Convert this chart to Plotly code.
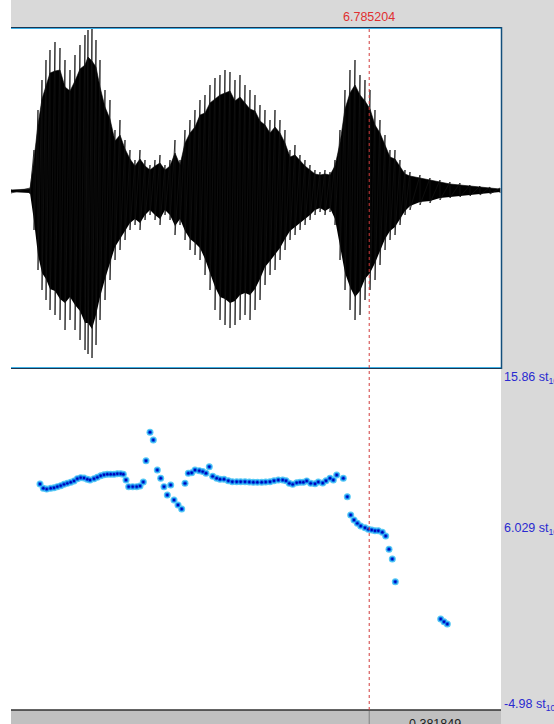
import plotly.graph_objects as go

# ---------------- data ----------------
t_start = 5.7464
t_end = 7.1674
cursor_t = 6.785204
right_dur_label = "0.381849"

# waveform envelopes (arbitrary amplitude units), read every ~5 px
wave_t = [5.7464, 5.8015, 5.8131, 5.8247, 5.8363, 5.8479, 5.8595, 5.8740, 5.8885, 5.9030,
          5.9175, 5.9320, 5.9465, 5.9610, 5.9697, 5.9813, 5.9929, 6.0045, 6.0190, 6.0335,
          6.0480, 6.0625, 6.0770, 6.0915, 6.1060, 6.1205, 6.1350, 6.1495, 6.1640, 6.1785,
          6.1930, 6.2075, 6.2220, 6.2365, 6.2510, 6.2655, 6.2800, 6.2945, 6.3090, 6.3235,
          6.3380, 6.3525, 6.3670, 6.3815, 6.3960, 6.4105, 6.4250, 6.4395, 6.4540, 6.4685,
          6.4830, 6.4975, 6.5120, 6.5265, 6.5410, 6.5555, 6.5700, 6.5845, 6.5990, 6.6135,
          6.6280, 6.6425, 6.6570, 6.6715, 6.6860, 6.7005, 6.7150, 6.7295, 6.7440, 6.7585,
          6.7730, 6.7875, 6.8020, 6.8165, 6.8310, 6.8455, 6.8600, 6.8745, 6.8890, 6.9035,
          6.9325, 6.9615, 6.9905, 7.0195, 7.0485, 7.0775, 7.1065, 7.1355, 7.1645]
wave_max = [2, 3, 41, 81, 111, 131, 141, 149, 143, 131,
            121, 136, 146, 156, 161, 163, 151, 131, 101, 91,
            61, 71, 51, 41, 31, 41, 31, 26, 31, 36,
            26, 31, 51, 31, 61, 71, 81, 91, 96, 106,
            113, 116, 121, 119, 111, 116, 106, 101, 96, 86,
            81, 71, 81, 71, 61, 41, 46, 36, 31, 26,
            21, 19, 21, 19, 31, 61, 101, 121, 131, 116,
            111, 101, 81, 71, 56, 41, 41, 31, 21, 19,
            16, 13, 11, 9, 8, 6, 5, 4, 3]
wave_min = [-2, -3, -39, -79, -99, -109, -119, -124, -129, -139,
            -129, -139, -149, -159, -163, -167, -154, -129, -109, -89,
            -69, -59, -49, -39, -34, -39, -29, -24, -29, -34,
            -24, -29, -44, -34, -49, -59, -64, -69, -84, -99,
            -119, -129, -134, -137, -134, -129, -124, -129, -119, -109,
            -94, -84, -79, -69, -59, -49, -44, -39, -34, -29,
            -24, -21, -24, -21, -34, -69, -99, -119, -129, -124,
            -109, -99, -89, -74, -59, -49, -44, -34, -24, -19,
            -14, -12, -9, -7, -6, -5, -4, -3, -2]
# dense (solid black) part of the waveform
core_max = [1, 2, 32, 66, 92, 104, 118, 120, 121, 104,
            100, 110, 122, 126, 134, 130, 124, 104, 84, 72,
            50, 56, 42, 32, 25, 32, 25, 21, 25, 28,
            21, 25, 38, 26, 48, 58, 64, 76, 78, 88,
            92, 96, 98, 100, 90, 94, 88, 82, 80, 70,
            66, 58, 64, 58, 48, 34, 36, 30, 25, 21,
            17, 16, 17, 16, 25, 48, 82, 98, 106, 96,
            90, 82, 66, 58, 45, 34, 32, 25, 17, 15,
            13, 11, 9, 7, 6, 5, 4, 3, 2]
core_min = [-1, -2, -30, -64, -82, -88, -98, -100, -108, -112,
            -106, -114, -120, -132, -132, -138, -124, -106, -88, -72,
            -56, -48, -40, -32, -28, -32, -24, -19, -24, -28,
            -19, -24, -35, -28, -40, -48, -52, -57, -68, -82,
            -96, -106, -108, -112, -110, -104, -102, -104, -98, -88,
            -76, -70, -64, -57, -48, -40, -36, -32, -28, -24,
            -19, -17, -20, -17, -28, -56, -82, -96, -106, -100,
            -88, -82, -72, -60, -48, -40, -36, -28, -20, -15,
            -11, -10, -7, -6, -5, -4, -3, -2, -1]

# pitch (semitones re 100 Hz)
pitch_t = [5.8305, 5.8401, 5.8499, 5.8615, 5.8711, 5.8807, 5.8905, 5.9001, 5.9097, 5.9195,
           5.9291, 5.9387, 5.9485, 5.9581, 5.9677, 5.9755, 5.9871, 5.9967, 6.0065, 6.0161,
           6.0257, 6.0355, 6.0451, 6.0547, 6.0645, 6.0721, 6.0799, 6.0877, 6.0993, 6.1109,
           6.1205, 6.1301,
           6.1379, 6.1495, 6.1591, 6.1707, 6.1805, 6.1901, 6.1997, 6.2095, 6.2191, 6.2307,
           6.2414,
           6.2510, 6.2606, 6.2704, 6.2800, 6.2925, 6.3023, 6.3119, 6.3215, 6.3313, 6.3429,
           6.3525, 6.3641, 6.3766, 6.3882, 6.4009, 6.4125, 6.4250, 6.4375, 6.4491, 6.4607,
           6.4734, 6.4850, 6.4975, 6.5091, 6.5216, 6.5343, 6.5439, 6.5535, 6.5633, 6.5749,
           6.5845, 6.5941, 6.6039, 6.6155, 6.6280, 6.6376, 6.6503, 6.6599, 6.6715, 6.6811,
           6.6909, 6.7101, 6.7217, 6.7315, 6.7411, 6.7507, 6.7605, 6.7730, 6.7826, 6.7924,
           6.8020, 6.8116, 6.8232, 6.8330, 6.8426, 6.8522, 6.8609,
           6.9925, 7.0021, 7.0117]
pitch_st = [8.81, 8.55, 8.50, 8.55, 8.58, 8.65, 8.71, 8.79, 8.85, 8.92,
            9.00, 9.14, 9.20, 9.18, 9.10, 9.06, 9.14, 9.22, 9.32, 9.38,
            9.41, 9.41, 9.41, 9.44, 9.44, 9.41, 9.06, 8.65, 8.65, 8.65,
            8.69, 8.93,
            10.24, 11.98, 11.51, 9.67, 9.16, 8.65, 8.14, 8.75, 7.83, 7.52,
            7.28,
            8.85, 9.47, 9.50, 9.67, 9.63, 9.57, 9.47, 9.87, 9.28, 9.16,
            9.10, 9.10, 9.01, 8.95, 8.95, 8.95, 8.95, 8.93, 8.92, 8.92,
            8.92, 8.93, 8.95, 9.01, 9.06, 9.06, 9.01, 8.85, 8.79, 8.89,
            8.92, 8.92, 9.00, 8.85, 8.83, 8.93, 8.87, 9.01, 9.16, 9.06,
            9.36, 9.16, 8.03, 6.91, 6.60, 6.40, 6.24, 6.13, 6.03, 5.99,
            5.95, 5.95, 5.85, 5.62, 4.81, 4.21, 2.82,
            0.54, 0.37, 0.23]

pitch_top = 15.86
pitch_mid = 6.029
pitch_bottom = -4.98
pitch_tick_labels = ["15.86 st<sub>100</sub>", "6.029 st<sub>100</sub>", "-4.98 st<sub>100</sub>"]

# ---------------- layout geometry (pixels -> paper) ----------------
W, H = 554, 724
def px(x):
    return x / W
def py(y):
    return 1 - y / H

x_left, x_right = 11, 501
wave_top, wave_bot = 28, 368
pitch_topy, pitch_boty = 369, 709
bar_top = 710

fig = go.Figure()

# waveform core (filled)
fig.add_trace(go.Scatter(x=wave_t, y=core_min, mode="lines", line=dict(width=0, color="black"),
                         xaxis="x", yaxis="y", hoverinfo="skip", showlegend=False))
fig.add_trace(go.Scatter(x=wave_t, y=core_max, mode="lines", line=dict(width=0.6, color="black"),
                         fill="tonexty", fillcolor="black",
                         xaxis="x", yaxis="y", hoverinfo="skip", showlegend=False))
# waveform outer spikes: strokes between max and min at each time
zx, zy = [], []
for t, a, b in zip(wave_t, wave_max, wave_min):
    zx += [t, t]
    zy += [a, b]
fig.add_trace(go.Scatter(x=zx, y=zy, mode="lines", line=dict(width=0.8, color="#111111"),
                         xaxis="x", yaxis="y", hoverinfo="skip", showlegend=False))

# pitch speckles
fig.add_trace(go.Scatter(x=pitch_t, y=pitch_st, mode="markers",
                         marker=dict(size=7, color="#55c8f5"),
                         xaxis="x2", yaxis="y2", hoverinfo="skip", showlegend=False))
fig.add_trace(go.Scatter(x=pitch_t, y=pitch_st, mode="markers",
                         marker=dict(size=4.6, color="#0a72e8"),
                         xaxis="x2", yaxis="y2", hoverinfo="skip", showlegend=False))
fig.add_trace(go.Scatter(x=pitch_t, y=pitch_st, mode="markers",
                         marker=dict(size=2.4, color="#0000b8"),
                         xaxis="x2", yaxis="y2", hoverinfo="skip", showlegend=False))

gray = "#d9d9d9"
shapes = [
    dict(type="rect", xref="paper", yref="paper", x0=px(x_left), x1=1, y0=py(wave_top), y1=1,
         fillcolor=gray, line=dict(width=0), layer="below"),
    dict(type="rect", xref="paper", yref="paper", x0=px(x_right), x1=1, y0=0, y1=1,
         fillcolor=gray, line=dict(width=0), layer="below"),
    dict(type="rect", xref="paper", yref="paper", x0=px(x_left), x1=px(x_right), y0=0, y1=py(bar_top),
         fillcolor="#c0c0c0", line=dict(width=0), layer="below"),
    dict(type="line", xref="paper", yref="paper", x0=px(x_left), x1=px(x_right),
         y0=py(bar_top), y1=py(bar_top), line=dict(color="#303030", width=1.5)),
    dict(type="line", xref="paper", yref="paper", x0=px(x_left), x1=px(x_right + 1),
         y0=py(wave_top - 0.5), y1=py(wave_top - 0.5), line=dict(color="#1c3550", width=1)),
    dict(type="line", xref="paper", yref="paper", x0=px(x_left), x1=px(x_right),
         y0=py(wave_top + 0.5), y1=py(wave_top + 0.5), line=dict(color="#3db0e6", width=1)),
    dict(type="line", xref="paper", yref="paper", x0=px(x_left), x1=px(x_right),
         y0=py(wave_bot - 0.5), y1=py(wave_bot - 0.5), line=dict(color="#3db0e6", width=1)),
    dict(type="line", xref="paper", yref="paper", x0=px(x_left), x1=px(x_right + 1),
         y0=py(wave_bot + 0.5), y1=py(wave_bot + 0.5), line=dict(color="#1c3550", width=1)),
    dict(type="line", xref="paper", yref="paper", x0=px(x_right + 0.5), x1=px(x_right + 0.5),
         y0=py(wave_bot + 1), y1=py(wave_top - 1), line=dict(color="#134f7c", width=1.5)),
    dict(type="line", xref="x", yref="paper", x0=cursor_t, x1=cursor_t,
         y0=py(bar_top), y1=py(wave_top + 1), line=dict(color="#d03a3a", width=1, dash="dot")),
    dict(type="line", xref="x", yref="paper", x0=cursor_t, x1=cursor_t,
         y0=0, y1=py(bar_top + 1), line=dict(color="#808080", width=1)),
]

blue_txt = "#2a2ad0"
font_main = "Liberation Sans, Arial, sans-serif"
annotations = [
    dict(x=cursor_t, y=py(17), xref="x", yref="paper", text="6.785204", showarrow=False,
         font=dict(color="#e03030", size=12.5, family=font_main), xanchor="center", yanchor="middle"),
    dict(x=px(x_right + 1), y=pitch_top, xref="paper", yref="y2", yshift=-9,
         text=pitch_tick_labels[0], showarrow=False, xanchor="left", yanchor="middle",
         font=dict(color=blue_txt, size=12.5, family=font_main)),
    dict(x=px(x_right + 1), y=pitch_mid, xref="paper", yref="y2",
         text=pitch_tick_labels[1], showarrow=False, xanchor="left", yanchor="middle",
         font=dict(color=blue_txt, size=12.5, family=font_main)),
    dict(x=px(x_right + 1), y=pitch_bottom, xref="paper", yref="y2", yshift=4,
         text=pitch_tick_labels[2], showarrow=False, xanchor="left", yanchor="middle",
         font=dict(color=blue_txt, size=12.5, family=font_main)),
    dict(x=(cursor_t + t_end) / 2, y=py(724), xref="x2", yref="paper",
         text=right_dur_label, showarrow=False, xanchor="center", yanchor="middle",
         font=dict(color="#202020", size=12.5, family=font_main)),
]

ax_common = dict(visible=False, showgrid=False, zeroline=False, fixedrange=True)
fig.update_layout(
    width=W, height=H,
    margin=dict(l=0, r=0, t=0, b=0),
    paper_bgcolor="white", plot_bgcolor="rgba(0,0,0,0)",
    showlegend=False,
    xaxis=dict(domain=[px(x_left), px(x_right)], range=[t_start, t_end], anchor="y", **ax_common),
    yaxis=dict(domain=[py(wave_bot), py(wave_top)], range=[-177, 163], anchor="x", **ax_common),
    xaxis2=dict(domain=[px(x_left), px(x_right)], range=[t_start, t_end], anchor="y2", **ax_common),
    yaxis2=dict(domain=[py(pitch_boty), py(pitch_topy)], range=[pitch_bottom, pitch_top], anchor="x2", **ax_common),
    shapes=shapes,
    annotations=annotations,
)

fig.write_html(
    "out.html",
    config={"displayModeBar": False},
    post_script="document.body.style.margin='0';document.body.style.overflow='hidden';",
)
